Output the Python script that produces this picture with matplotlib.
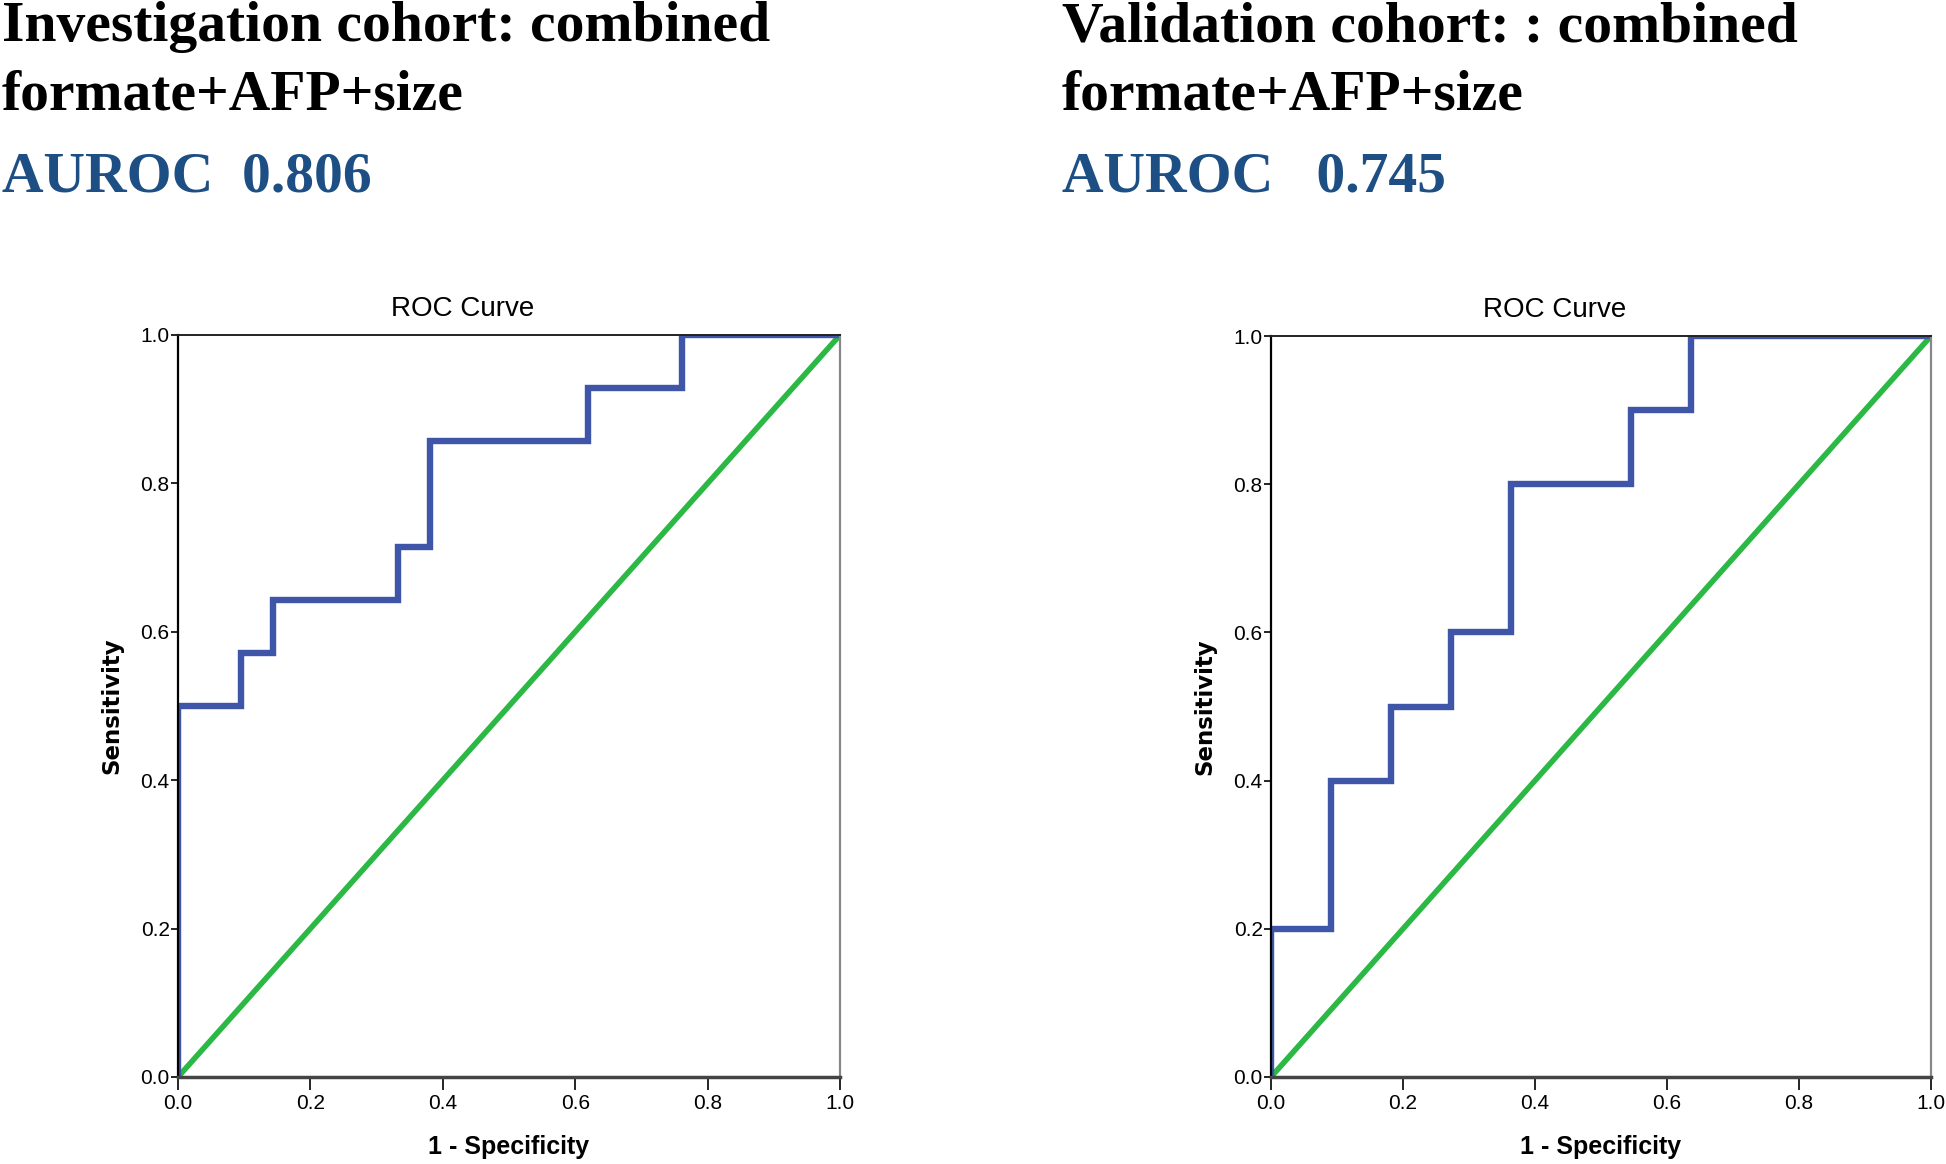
import matplotlib
matplotlib.use("Agg")
import matplotlib.pyplot as plt

# step points of the two ROC curves
inv_fpr = [0.0, 0.0, 0.095, 0.095, 0.143, 0.143, 0.333, 0.333, 0.381, 0.381, 0.619, 0.619, 0.762, 0.762, 1.0]
inv_tpr = [0.0, 0.5, 0.5, 0.571, 0.571, 0.643, 0.643, 0.714, 0.714, 0.857, 0.857, 0.929, 0.929, 1.0, 1.0]

val_fpr = [0.0, 0.0, 0.091, 0.091, 0.182, 0.182, 0.273, 0.273, 0.364, 0.364, 0.545, 0.545, 0.636, 0.636, 1.0]
val_tpr = [0.0, 0.2, 0.2, 0.4, 0.4, 0.5, 0.5, 0.6, 0.6, 0.8, 0.8, 0.9, 0.9, 1.0, 1.0]

ref_line = [0.0, 1.0]
ticks = [0.0, 0.2, 0.4, 0.6, 0.8, 1.0]

titles = [("Investigation cohort: combined", "formate+AFP+size", "AUROC  0.806"),
          ("Validation cohort: : combined", "formate+AFP+size", "AUROC   0.745")]

W, H = 1946, 1164
fig = plt.figure(figsize=(W / 100, H / 100), dpi=100)

serif = ["Liberation Serif", "DejaVu Serif"]
sans = ["Liberation Sans", "DejaVu Sans"]


def panel(left_px, top_px, right_px, bottom_px, fpr, tpr, text_x, lines):
    ax = fig.add_axes([left_px / W, 1 - bottom_px / H,
                       (right_px - left_px) / W, (bottom_px - top_px) / H])
    ax.plot(ref_line, ref_line, color="#2cb845", lw=4.0, solid_capstyle="butt")
    ax.plot(fpr, tpr, color="#3f55a8", lw=4.6, solid_joinstyle="miter")
    ax.set_xlim(0, 1)
    ax.set_ylim(0, 1)
    ax.set_xticks(ticks)
    ax.set_yticks(ticks)
    ax.set_xticklabels([f"{t:.1f}" for t in ticks], family=sans, fontsize=15)
    ax.set_yticklabels([f"{t:.1f}" for t in ticks], family=sans, fontsize=15)
    ax.tick_params(axis="x", direction="out", length=9, width=1.2, pad=3)
    ax.tick_params(axis="y", direction="out", length=5, width=1.2, pad=1)
    ax.spines["left"].set_color("black")
    ax.spines["left"].set_linewidth(1.6)
    ax.spines["bottom"].set_color("#444444")
    ax.spines["bottom"].set_linewidth(2.5)
    ax.spines["top"].set_color("#222222")
    ax.spines["top"].set_linewidth(1.4)
    ax.spines["right"].set_color("#888888")
    ax.spines["right"].set_linewidth(1.6)
    ax.text(0.43, 1.0, "ROC Curve", transform=ax.transAxes, family=sans,
            fontsize=20, ha="center", va="bottom").set_y(1.018)
    ax.set_xlabel("1 - Specificity", family=sans, fontweight="bold", fontsize=18, labelpad=16)
    ax.set_ylabel("Sensitivity", family="DejaVu Sans", fontweight="bold", fontsize=16.5, labelpad=12)

    fig.text(text_x / W, 1 - 41 / H, lines[0], family=serif, fontweight="bold",
             fontsize=41.5, va="baseline", color="black")
    fig.text(text_x / W, 1 - 109 / H, lines[1], family=serif, fontweight="bold",
             fontsize=41.5, va="baseline", color="black")
    fig.text(text_x / W, 1 - 192 / H, lines[2], family=serif, fontweight="bold",
             fontsize=41.5, va="baseline", color="#1d4f85")
    return ax


panel(178, 335, 840, 1077, inv_fpr, inv_tpr, 2, titles[0])
panel(1271, 336, 1931, 1077, val_fpr, val_tpr, 1062, titles[1])

fig.savefig("out.png", dpi=100)
